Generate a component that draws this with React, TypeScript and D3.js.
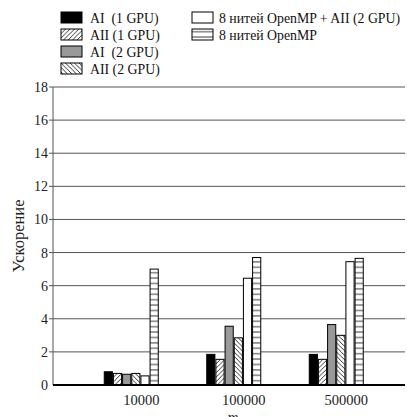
import React, { useEffect, useRef } from "react";
import * as d3 from "d3";

const categories = ["10000", "100000", "500000"];
const seriesNames = [
  "AI  (1 GPU)",
  "AII (1 GPU)",
  "AI  (2 GPU)",
  "AII (2 GPU)",
  "8 нитей OpenMP + AII (2 GPU)",
  "8 нитей OpenMP",
];
const aI1 = [0.8, 1.85, 1.85];
const aII1 = [0.7, 1.55, 1.55];
const aI2 = [0.65, 3.55, 3.65];
const aII2 = [0.7, 2.85, 3.0];
const omp8AII2 = [0.55, 6.45, 7.45];
const omp8 = [7.0, 7.7, 7.65];
const yTicks = [0, 2, 4, 6, 8, 10, 12, 14, 16, 18];

const W = 407;
const H = 417;
const FONT = "'Liberation Serif', 'Times New Roman', serif";

const App = () => {
  const ref = useRef<SVGSVGElement>(null);

  useEffect(() => {
    const values = [aI1, aII1, aI2, aII2, omp8AII2, omp8];
    const fills = ["#000", "url(#hatchR)", "#999", "url(#hatchL)", "#fff", "url(#hatchH)"];

    const svg = d3.select(ref.current).attr("width", W).attr("height", H);
    svg.selectAll("*").remove();

    const defs = svg.append("defs");
    const pat = (id: string, w: number, h: number, path: string) => {
      const p = defs.append("pattern").attr("id", id)
        .attr("patternUnits", "userSpaceOnUse").attr("width", w).attr("height", h);
      p.append("rect").attr("width", w).attr("height", h).attr("fill", "#fff");
      p.append("path").attr("d", path).attr("stroke", "#000").attr("stroke-width", 0.8).attr("fill", "none");
    };
    pat("hatchR", 4.5, 4.5, "M-1,5.5 L5.5,-1 M-1,1 L1,-1 M3.5,5.5 L5.5,3.5");
    pat("hatchL", 4.5, 4.5, "M-1,-1 L5.5,5.5 M-1,3.5 L1,5.5 M3.5,-1 L5.5,1");
    pat("hatchH", 10, 5.4, "M0,2.7 L10,2.7");

    const y = d3.scaleLinear().domain([0, 18]).range([385, 87]);
    const x0 = d3.scaleBand().domain(categories).range([80, 387.5]);
    const x1 = d3.scaleBand().domain(seriesNames).range([0, 55]);
    const left = 53;
    const right = 405;

    // gridlines
    svg.append("g").selectAll("line").data(yTicks.filter(t => t > 0)).enter().append("line")
      .attr("x1", left - 4).attr("x2", right)
      .attr("y1", d => y(d)).attr("y2", d => y(d))
      .attr("stroke", "#555").attr("stroke-width", 1);

    // y axis
    svg.append("line").attr("x1", left).attr("x2", left).attr("y1", y(18)).attr("y2", y(0))
      .attr("stroke", "#555").attr("stroke-width", 1);
    svg.append("g").selectAll("text").data(yTicks).enter().append("text")
      .attr("x", left - 5).attr("y", d => y(d) + 5)
      .attr("text-anchor", "end").attr("font-family", FONT).attr("font-size", 14)
      .attr("fill", "#222").text(d => d);

    svg.append("text")
      .attr("transform", `translate(24, ${(y(0) + y(18)) / 2}) rotate(-90)`)
      .attr("text-anchor", "middle").attr("font-family", FONT).attr("font-size", 16.5)
      .attr("fill", "#222").text("Ускорение");

    // bars
    const groups = svg.append("g").selectAll("g").data(categories).enter().append("g")
      .attr("transform", d => `translate(${x0(d)! + x0.bandwidth() / 2 - 27.5},0)`);
    groups.selectAll("rect")
      .data((_, i) => values.map((v, s) => ({ s, v: v[i] })))
      .enter().append("rect")
      .attr("x", d => x1(seriesNames[d.s])! + 0.5)
      .attr("y", d => y(d.v))
      .attr("width", x1.bandwidth() - 1)
      .attr("height", d => y(0) - y(d.v))
      .attr("fill", d => fills[d.s])
      .attr("stroke", "#000").attr("stroke-width", 1);

    // x axis
    svg.append("line").attr("x1", left).attr("x2", right).attr("y1", y(0)).attr("y2", y(0))
      .attr("stroke", "#000").attr("stroke-width", 2);
    svg.append("g").selectAll("text").data(categories).enter().append("text")
      .attr("x", d => x0(d)! + x0.bandwidth() / 2 + 10).attr("y", 405)
      .attr("text-anchor", "middle").attr("font-family", FONT).attr("font-size", 14.5)
      .attr("fill", "#222").text(d => d);
    svg.append("text").attr("x", 233).attr("y", 422).attr("text-anchor", "middle")
      .attr("font-family", FONT).attr("font-size", 15).attr("font-style", "italic")
      .attr("fill", "#222").text("m");

    // legend
    const legend = svg.append("g").selectAll("g").data(seriesNames).enter().append("g")
      .attr("transform", (_, i) => i < 4
        ? `translate(61, ${12 + i * 17})`
        : `translate(192, ${12 + (i - 4) * 17})`);
    legend.append("rect").attr("width", 21).attr("height", 11)
      .attr("fill", (_, i) => fills[i]).attr("stroke", "#000").attr("stroke-width", 1);
    legend.append("text").attr("x", (_, i) => (i < 4 ? 29 : 27)).attr("y", 10.5)
      .attr("font-family", FONT).attr("font-size", 13.8).attr("fill", "#111")
      .attr("xml:space", "preserve").style("white-space", "pre")
      .text(d => d);
  }, []);

  return <svg ref={ref} style={{ position: "absolute", left: 0, top: 0 }} />;
};

export default App;
